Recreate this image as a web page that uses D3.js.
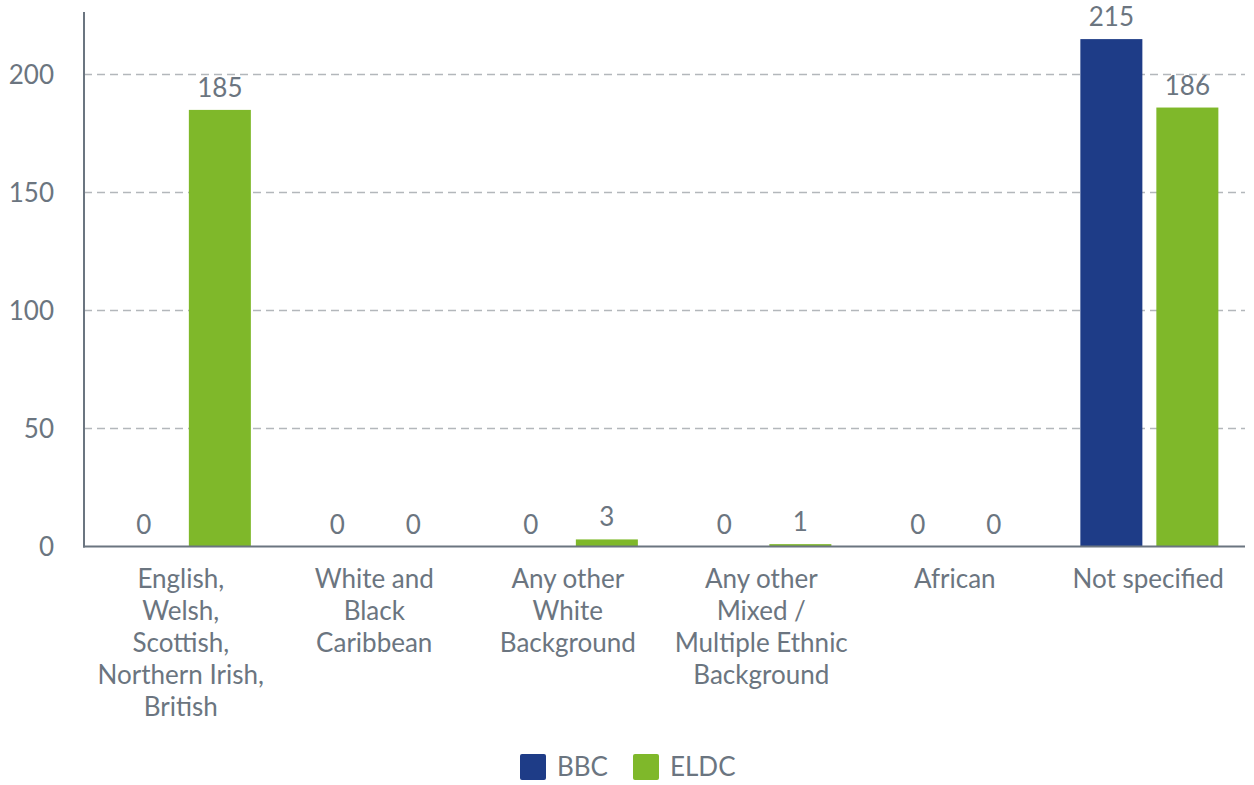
<!DOCTYPE html>
<html>
<head>
<meta charset="utf-8">
<script src="https://cdn.jsdelivr.net/npm/d3@7"></script>
<style>
  html, body { margin: 0; padding: 0; background: #fff; }
  svg { display: block; font-family: Lato, "Open Sans", sans-serif; }
</style>
</head>
<body>
<svg id="chart" width="1254" height="785"></svg>
<script>
// Ethnicity breakdown, BBC vs ELDC
const categories = [
  ["English,", "Welsh,", "Scottish,", "Northern Irish,", "British"],
  ["White and", "Black", "Caribbean"],
  ["Any other", "White", "Background"],
  ["Any other", "Mixed /", "Multiple Ethnic", "Background"],
  ["African"],
  ["Not specified"]
];
const seriesNames = ["BBC", "ELDC"];
const bbcValues  = [0, 0, 0, 0, 0, 215];
const eldcValues = [185, 0, 3, 1, 0, 186];
const yTicks = [0, 50, 100, 150, 200];

const colors = { BBC: "#1e3c87", ELDC: "#7fb82a" };
const textColor = "#6b7580";
const fontSize = "26px";

const svg = d3.select("#chart");
const plotLeft = 84, plotRight = 1245, plotTop = 12;
const plotBottom = 546.5;

const x0 = d3.scaleBand()
  .domain(d3.range(categories.length))
  .range([plotLeft, plotRight]);

const x1 = d3.scaleBand()
  .domain(seriesNames)
  .range([0, x0.bandwidth()])
  .paddingInner(0.184)
  .paddingOuter(0.365)
  .align(0.52);

const y = d3.scaleLinear().domain([0, 200]).range([plotBottom, plotBottom - 472]);

// gridlines
svg.append("g")
  .selectAll("line")
  .data(yTicks.filter(d => d > 0))
  .join("line")
  .attr("x1", plotLeft).attr("x2", plotRight)
  .attr("y1", d => y(d)).attr("y2", d => y(d))
  .attr("stroke", "#b3b7bb")
  .attr("stroke-width", 1.5)
  .attr("stroke-dasharray", "8,5");

// y tick labels
svg.append("g")
  .selectAll("text")
  .data(yTicks)
  .join("text")
  .attr("x", 54)
  .attr("y", d => y(d))
  .attr("dy", "0.35em")
  .attr("text-anchor", "end")
  .attr("fill", textColor)
  .style("font-size", fontSize)
  .text(d => d);

// bars
const rows = categories.map((c, i) => ({
  i,
  vals: [{ key: "BBC", v: bbcValues[i] }, { key: "ELDC", v: eldcValues[i] }]
}));

const groups = svg.append("g")
  .selectAll("g")
  .data(rows)
  .join("g")
  .attr("transform", d => `translate(${x0(d.i)},0)`);

groups.selectAll("rect")
  .data(d => d.vals)
  .join("rect")
  .attr("x", d => x1(d.key))
  .attr("width", x1.bandwidth())
  .attr("y", d => y(d.v))
  .attr("height", d => plotBottom - y(d.v))
  .attr("fill", d => colors[d.key]);

groups.selectAll("text.val")
  .data(d => d.vals)
  .join("text")
  .attr("class", "val")
  .attr("x", d => x1(d.key) + x1.bandwidth() / 2)
  .attr("y", d => y(d.v) - 13)
  .attr("text-anchor", "middle")
  .attr("fill", textColor)
  .style("font-size", fontSize)
  .text(d => d.v);

// axis lines
svg.append("line")
  .attr("x1", plotLeft).attr("x2", plotLeft)
  .attr("y1", plotTop).attr("y2", plotBottom + 1)
  .attr("stroke", "#6b7580").attr("stroke-width", 2);
svg.append("line")
  .attr("x1", plotLeft - 1).attr("x2", plotRight)
  .attr("y1", plotBottom).attr("y2", plotBottom)
  .attr("stroke", "#6b7580").attr("stroke-width", 2);

// category labels
const catG = svg.append("g")
  .selectAll("text")
  .data(categories)
  .join("text")
  .attr("text-anchor", "middle")
  .attr("fill", textColor)
  .style("font-size", fontSize)
  .attr("transform", (d, i) => `translate(${x0(i) + x0.bandwidth() / 2},588)`);
catG.selectAll("tspan")
  .data(d => d)
  .join("tspan")
  .attr("x", 0)
  .attr("y", (d, j) => j * 32)
  .text(d => d);

// legend
const legendItems = [
  { name: "BBC", x: 520 },
  { name: "ELDC", x: 633 }
];
const lg = svg.append("g")
  .selectAll("g")
  .data(legendItems)
  .join("g")
  .attr("transform", d => `translate(${d.x},754)`);
lg.append("rect")
  .attr("width", 26).attr("height", 26)
  .attr("rx", 2)
  .attr("fill", d => colors[d.name]);
lg.append("text")
  .attr("x", 37).attr("y", 13).attr("dy", "0.35em")
  .attr("fill", textColor)
  .style("font-size", fontSize)
  .text(d => d.name);
</script>
</body>
</html>
